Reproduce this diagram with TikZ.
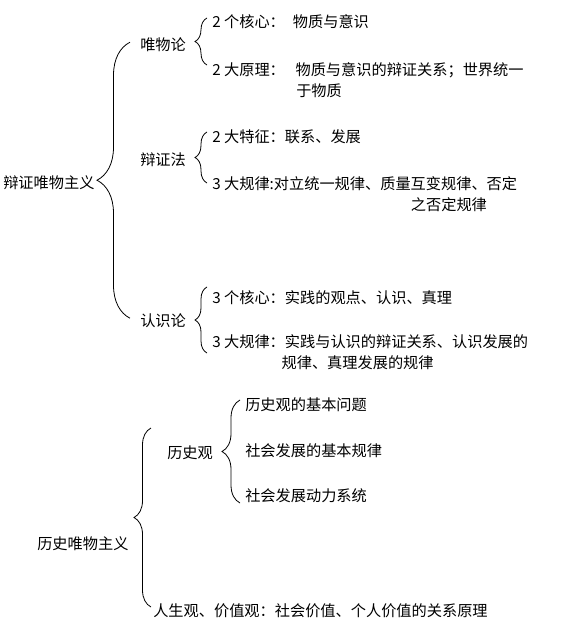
\documentclass[tikz,border=0pt]{standalone}
\usepackage{fontspec}
\setmainfont{Noto Sans CJK SC}
\usetikzlibrary{calc, decorations.pathreplacing}

\begin{document}
\begin{tikzpicture}[x=0.75pt, y=-0.75pt,
    every node/.style={inner sep=0pt, anchor=base west,
        font=\fontsize{11.4}{15.75}\selectfont},
    brc/.style={decorate, decoration={brace, amplitude=#1}, line width=0.6pt}]
    \useasboundingbox (0,0) rectangle (581,627);
    % dialectical materialism
    \node (dialmat) at (3,189) {辩证唯物主义};
    \node (materialism) at (140,51) {唯物论};
    \node (dialectics) at (140,166) {辩证法};
    \node (epistem) at (140,326) {认识论};
    \node (core2) at (212,28) {2 个核心：\hspace{6pt}物质与意识};
    \node[align=left] (principle) at (212,97)
        {2 大原理：\hspace{8pt}物质与意识的辩证关系；世界统一\\\hspace*{63pt}于物质};
    \node (feature) at (212,143) {2 大特征：联系、发展};
    \node[align=left] (dlaw) at (212,210)
        {3 大规律:对立统一规律、质量互变规律、否定\\\hspace*{149pt}之否定规律};
    \node (core3) at (212,303) {3 个核心：实践的观点、认识、真理};
    \node[align=left] (elaw) at (212,368)
        {3 大规律：实践与认识的辩证关系、认识发展的\\\hspace*{52pt}规律、真理发展的规律};
    \draw[brc=24.75pt] ($(epistem.west)+(-10,-2)$) -- ($(materialism.west)+(-10,-3)$);
    \draw[brc=9pt] ($(principle.base west)+(-5,-32)$) -- ($(core2.base west)+(-5,-10)$);
    \draw[brc=9pt] ($(dlaw.base west)+(-5,-27)$) -- ($(feature.base west)+(-5,-11)$);
    \draw[brc=9pt] ($(elaw.base west)+(-5,-15)$) -- ($(core3.base west)+(-5,-16)$);
    % historical materialism
    \node (histmat) at (37,549) {历史唯物主义};
    \node (histview) at (167,458) {历史观};
    \node (basicq) at (245,410) {历史观的基本问题};
    \node (basiclaw) at (245,456) {社会发展的基本规律};
    \node (motive) at (245,501) {社会发展动力系统};
    \node (lifeview) at (153,616) {人生观、价值观：社会价值、个人价值的关系原理};
    \draw[brc=12.75pt] ($(lifeview.base west)+(-2,-9)$) -- ($(histview.base west)+(-16,-30)$);
    \draw[brc=13.5pt] ($(motive.base west)+(-5,2)$) -- ($(basicq.base west)+(-5,-10)$);
\end{tikzpicture}
\end{document}
